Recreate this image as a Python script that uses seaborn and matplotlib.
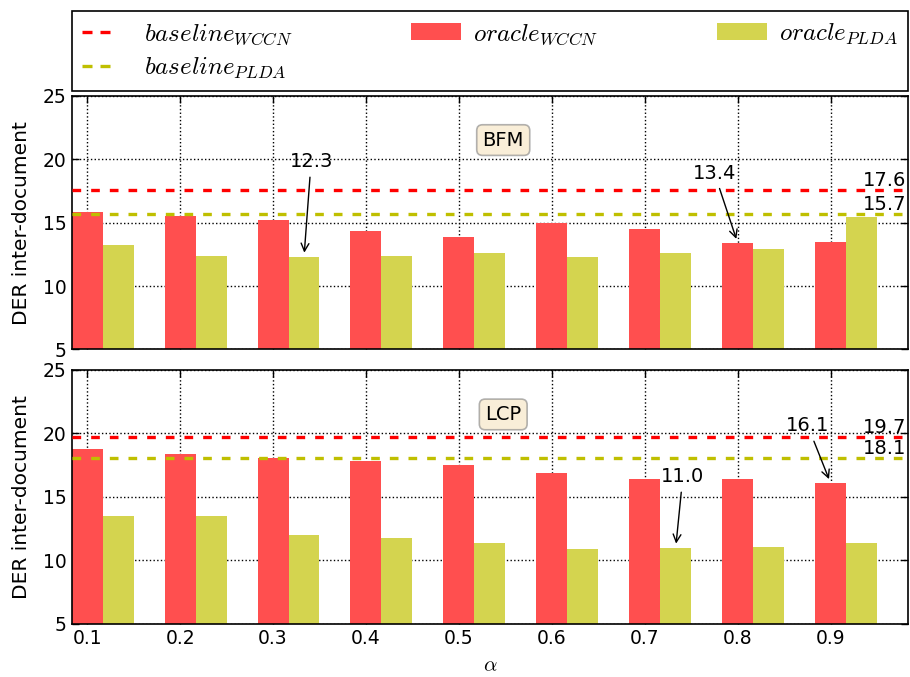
import numpy as np
import pandas as pd
import seaborn as sns
import matplotlib.pyplot as plt
from matplotlib.lines import Line2D
from matplotlib.patches import Patch

# ==========================================================
# Data
# ==========================================================

alpha = [0.1, 0.2, 0.3, 0.4, 0.5, 0.6, 0.7, 0.8, 0.9]

bfm_wccn = [15.8, 15.5, 15.2, 14.3, 13.9, 15.0, 14.5, 13.4, 13.5]
bfm_plda = [13.2, 12.4, 12.3, 12.4, 12.6, 12.3, 12.6, 12.9, 15.4]
bfm_base_wccn = 17.6
bfm_base_plda = 15.7

lcp_wccn = [18.8, 18.4, 18.1, 17.8, 17.5, 16.9, 16.4, 16.4, 16.1]
lcp_plda = [13.5, 13.5, 12.0, 11.8, 11.4, 10.9, 11.0, 11.1, 11.4]
lcp_base_wccn = 19.7
lcp_base_plda = 18.1

# annotated bars: (label, alpha index, which series, text position)
bfm_notes = [("12.3", 2, "plda", (0.341, 19.8)), ("13.4", 7, "wccn", (0.775, 18.9))]
lcp_notes = [("11.0", 6, "plda", (0.741, 16.6)), ("16.1", 8, "wccn", (0.8755, 20.6))]

labels = [r"$baseline_{WCCN}$", r"$baseline_{PLDA}$",
          r"$oracle_{WCCN}$", r"$oracle_{PLDA}$"]

# ==========================================================
# Style
# ==========================================================

sns.set_style("ticks", {
    "axes.edgecolor": "black",
    "axes.labelcolor": "black",
    "text.color": "black",
    "xtick.color": "black",
    "ytick.color": "black",
    "xtick.direction": "in",
    "ytick.direction": "in",
    "grid.color": "black",
    "grid.linestyle": ":",
})
plt.rcParams["font.family"] = ["DejaVu Sans"]
plt.rcParams["mathtext.fontset"] = "cm"
plt.rcParams["axes.linewidth"] = 1.2

RED = "#ff4f4f"
YEL = "#d4d44f"
RED_LINE = "#ff0000"
YEL_LINE = "#bfbf00"
W = 1 / 30

fig = plt.figure(figsize=(9.1, 6.77), dpi=100)
ax1 = fig.add_axes([0.0788, 0.4838, 0.919, 0.3749])
ax2 = fig.add_axes([0.0788, 0.0783, 0.919, 0.3752])


def draw_panel(ax, wccn, plda, base_wccn, base_plda, name, notes, show_x):
    df = pd.DataFrame({"alpha": alpha, "wccn": wccn, "plda": plda})
    df["alpha2"] = df["alpha"] + W

    sns.barplot(data=df, x="alpha", y="wccn", native_scale=True, width=1 / 3,
                color=RED, saturation=1, errorbar=None, linewidth=0, ax=ax)
    sns.barplot(data=df, x="alpha2", y="plda", native_scale=True, width=1 / 3,
                color=YEL, saturation=1, errorbar=None, linewidth=0, ax=ax)

    for val, col in [(base_wccn, RED_LINE), (base_plda, YEL_LINE)]:
        ax.axhline(val, color=col, lw=2.4, dashes=(2.6, 3.0), zorder=3)
        ax.text(0.935, val + 0.75, f"{val:.1f}", fontsize=14, va="center", ha="left")

    for txt, i, which, pos in notes:
        x = alpha[i] + (W if which == "plda" else 0)
        y = plda[i] if which == "plda" else wccn[i]
        ax.annotate(txt, xy=(x, y), xytext=pos, fontsize=14, ha="center", va="center",
                    arrowprops=dict(arrowstyle="->", color="black", lw=1, shrinkB=3))

    ax.text(0.516, 0.825, name, transform=ax.transAxes, fontsize=14,
            ha="center", va="center",
            bbox=dict(boxstyle="round", facecolor="#f5deb380", edgecolor="#80808099",
                      linewidth=1.2))

    ax.set_xlim(0.1 - W / 2, 0.95 + W)
    ax.set_ylim(5, 25)
    ax.set_xticks(alpha)
    ax.set_yticks([5, 10, 15, 20, 25])
    ax.grid(True, color="black", linestyle=":", linewidth=1)
    ax.tick_params(top=True, right=True, length=5, width=1, labelsize=13.5)
    ax.set_ylabel("DER inter-document", fontsize=14.5, labelpad=9)
    if show_x:
        ax.set_xticklabels([f"{a:.1f}" for a in alpha])
        ax.set_xlabel(r"$\alpha$", fontsize=15, labelpad=5)
    else:
        ax.set_xticklabels([])
        ax.set_xlabel("")
    for s in ax.spines.values():
        s.set_visible(True)
        s.set_color("black")


draw_panel(ax1, bfm_wccn, bfm_plda, bfm_base_wccn, bfm_base_plda, "BFM", bfm_notes, False)
draw_panel(ax2, lcp_wccn, lcp_plda, lcp_base_wccn, lcp_base_plda, "LCP", lcp_notes, True)

# grid lines over the bars, under the dashed baselines
for ax in (ax1, ax2):
    for gl in ax.get_xgridlines() + ax.get_ygridlines():
        gl.set_zorder(2.5)

leg_dash = (3.0, 2.4, 3.0, 12)
handles = [
    Line2D([], [], color=RED_LINE, lw=2.4, dashes=leg_dash),
    Line2D([], [], color=YEL_LINE, lw=2.4, dashes=leg_dash),
    Patch(facecolor=RED, edgecolor="none"),
    Patch(facecolor=YEL, edgecolor="none"),
]
leg = ax1.legend(handles, labels, bbox_to_anchor=(0.0, 1.02, 1.0, 0.102), loc=3,
                 ncol=3, mode="expand", borderaxespad=0.0, fontsize=18,
                 fancybox=False, handlelength=2.0, handletextpad=0.5,
                 labelspacing=0.35, framealpha=1)
leg.get_frame().set_edgecolor("black")
leg.get_frame().set_linewidth(1.2)

fig.savefig("out.png", dpi=100, facecolor="white")
